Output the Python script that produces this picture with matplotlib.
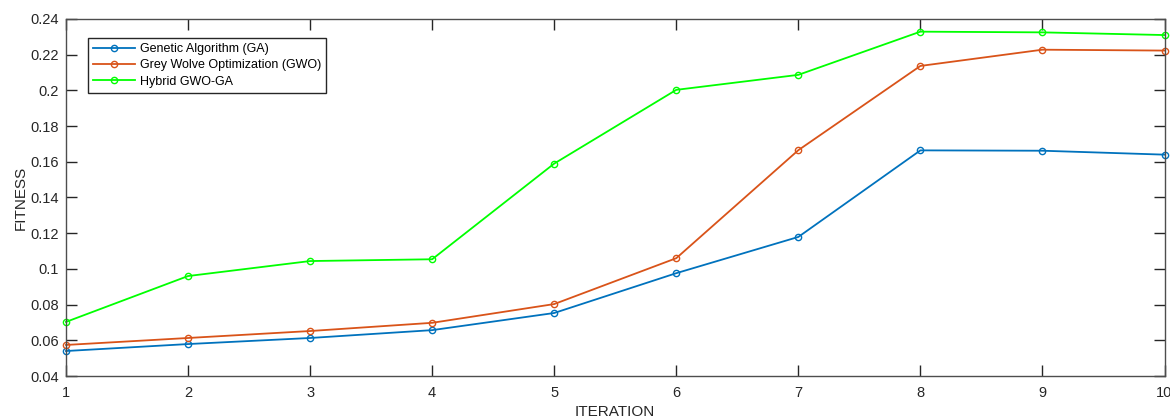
import matplotlib
matplotlib.use("Agg")
import matplotlib.pyplot as plt

plt.rcParams['font.family'] = ['Liberation Sans', 'DejaVu Sans']

iterations = [1, 2, 3, 4, 5, 6, 7, 8, 9, 10]
ga = [0.0540, 0.0579, 0.0613, 0.0657, 0.0753, 0.0976, 0.1179, 0.1664, 0.1662, 0.1640]
gwo = [0.0574, 0.0613, 0.0652, 0.0698, 0.0803, 0.1060, 0.1665, 0.2137, 0.2228, 0.2223]
hybrid = [0.0703, 0.0960, 0.1044, 0.1054, 0.1590, 0.2003, 0.2087, 0.2329, 0.2325, 0.2310]
labels = ['Genetic Algorithm (GA)', 'Grey Wolve Optimization (GWO)', 'Hybrid GWO-GA']
colors = ['#0072BD', '#D95319', '#00FF00']
yticks = [0.04, 0.06, 0.08, 0.1, 0.12, 0.14, 0.16, 0.18, 0.2, 0.22, 0.24]
ytick_labels = ['0.04', '0.06', '0.08', '0.1', '0.12', '0.14', '0.16', '0.18', '0.2', '0.22', '0.24']

fig = plt.figure(figsize=(11.7, 4.19), dpi=100)
ax = fig.add_axes([0.0564, 0.1026, 0.9389, 0.8521])

for series, lab, col in zip([ga, gwo, hybrid], labels, colors):
    ax.plot(iterations, series, color=col, lw=1.3, marker='o', markersize=4.5,
            markerfacecolor='none', markeredgewidth=1.0, label=lab, clip_on=False)

ax.set_xlim(1, 10)
ax.set_ylim(0.04, 0.24)
ax.set_xticks(iterations)
ax.set_yticks(yticks)
ax.set_yticklabels(ytick_labels)

grey = '#262626'
for s in ax.spines.values():
    s.set_color('#4d4d4d')
    s.set_linewidth(1.0)
ax.tick_params(direction='in', length=8, width=1.0, colors=grey, labelsize=10.5,
               top=True, right=True, labelcolor=grey, pad=5)
ax.tick_params(axis='x', pad=7)

ax.set_xlabel('ITERATION', fontsize=11, color=grey, labelpad=4)
ax.set_ylabel('FITNESS', fontsize=11, color=grey, labelpad=2)

leg = ax.legend(loc='upper left', bbox_to_anchor=(0.0200, 0.946), fontsize=9.0,
                frameon=True, fancybox=False, edgecolor='#262626', framealpha=1,
                handlelength=3.4, handletextpad=0.4, borderpad=0.38,
                labelspacing=0.35, borderaxespad=0)
leg.get_frame().set_linewidth(1.0)

fig.savefig('out.png', dpi=100)
